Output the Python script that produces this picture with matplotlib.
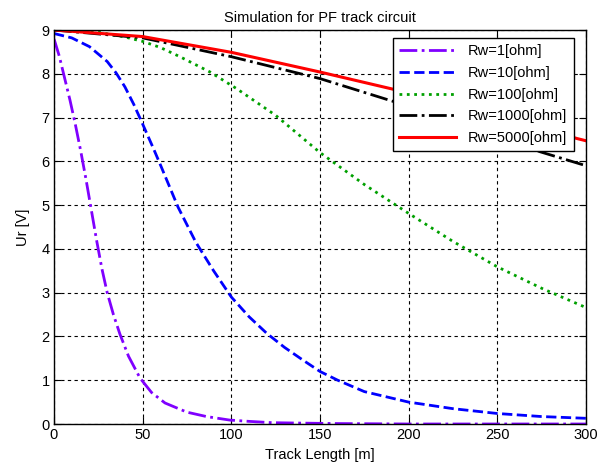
import numpy as np
import matplotlib
matplotlib.use('Agg')
import matplotlib.pyplot as plt

plt.rcParams['font.family'] = ['Liberation Sans', 'DejaVu Sans']

# values
x_rw1 = [0, 3, 6, 9, 12, 15, 18, 21, 24, 27, 30, 33.5, 37.2, 42, 48.5,
         55, 62.6, 67.3, 75, 86, 99, 110, 123, 140, 160, 200, 250, 300]
u_rw1 = [8.8, 8.4, 7.9, 7.4, 6.85, 6.25, 5.6, 4.9, 4.2, 3.55, 3.0, 2.5, 2.05, 1.55, 1.05,
         0.72, 0.48, 0.4, 0.27, 0.17, 0.09, 0.06, 0.03, 0.02, 0.01, 0.0, 0.0, 0.0]

x_rw10 = [0, 10, 20, 30, 35, 40, 45, 50, 56, 60, 70, 80, 90, 100, 110, 120, 130, 140, 150, 160,
          175, 200, 225, 250, 275, 300]
u_rw10 = [8.92, 8.82, 8.62, 8.28, 8.02, 7.7, 7.3, 6.85, 6.3, 5.92, 4.95, 4.15, 3.5, 2.9, 2.45, 2.07,
          1.75, 1.47, 1.2, 1.0, 0.74, 0.5, 0.35, 0.24, 0.17, 0.13]

x_rw100 = [0, 25, 40, 50, 60, 71, 88, 103, 125, 150, 175, 200, 225, 250, 275, 300]
u_rw100 = [9.0, 8.95, 8.84, 8.74, 8.6, 8.39, 8.04, 7.66, 7.05, 6.2, 5.47, 4.81, 4.17, 3.59, 3.1, 2.66]

x_rw1000 = [0, 50, 100, 150, 192, 200, 250, 274, 300]
u_rw1000 = [9.0, 8.82, 8.39, 7.89, 7.36, 7.26, 6.58, 6.22, 5.9]

x_rw5000 = [0, 50, 100, 150, 192, 200, 250, 295, 300]
u_rw5000 = [9.0, 8.85, 8.49, 8.04, 7.64, 7.56, 7.05, 6.52, 6.47]

labels = ['Rw=1[ohm]', 'Rw=10[ohm]', 'Rw=100[ohm]', 'Rw=1000[ohm]', 'Rw=5000[ohm]']

fig = plt.figure(figsize=(6.1, 4.68), dpi=100)
ax = fig.add_axes([54 / 610, 1 - 424 / 468, 532 / 610, 394 / 468])

ax.plot(x_rw1, u_rw1, color='#8000ff', linestyle='-.', lw=2.0, label=labels[0])
ax.plot(x_rw10, u_rw10, color='#0000ff', linestyle='--', lw=2.0, label=labels[1])
ax.plot(x_rw100, u_rw100, color='#00a000', linestyle=':', lw=2.0, label=labels[2])
ax.plot(x_rw1000, u_rw1000, color='black', linestyle='-.', lw=2.0, label=labels[3])
ax.plot(x_rw5000, u_rw5000, color='#ff0000', linestyle='-', lw=2.2, label=labels[4])

ax.set_xlim(0, 300)
ax.set_ylim(0, 9)
ax.set_xticks(np.arange(0, 301, 50))
ax.set_yticks(np.arange(0, 10, 1))
ax.grid(True, color='black', linestyle=(0, (3, 3)), lw=0.8)
ax.tick_params(direction='in', top=True, right=True, length=5, labelsize=10.5, pad=3)
for s in ax.spines.values():
    s.set_linewidth(1.0)

ax.set_title('Simulation for PF track circuit', fontsize=10.5, pad=6)
ax.set_xlabel('Track Length [m]', fontsize=10.5, labelpad=4)
ax.set_ylabel('Ur [V]', fontsize=10.5, labelpad=8)

leg = ax.legend(loc='upper right', bbox_to_anchor=(0.977, 0.98), borderaxespad=0,
                fancybox=False, framealpha=1, edgecolor='black', fontsize=10.5,
                handlelength=3.9, labelspacing=0.52, borderpad=0.45)
leg.get_frame().set_linewidth(1.0)

fig.savefig('out.png', dpi=100)
